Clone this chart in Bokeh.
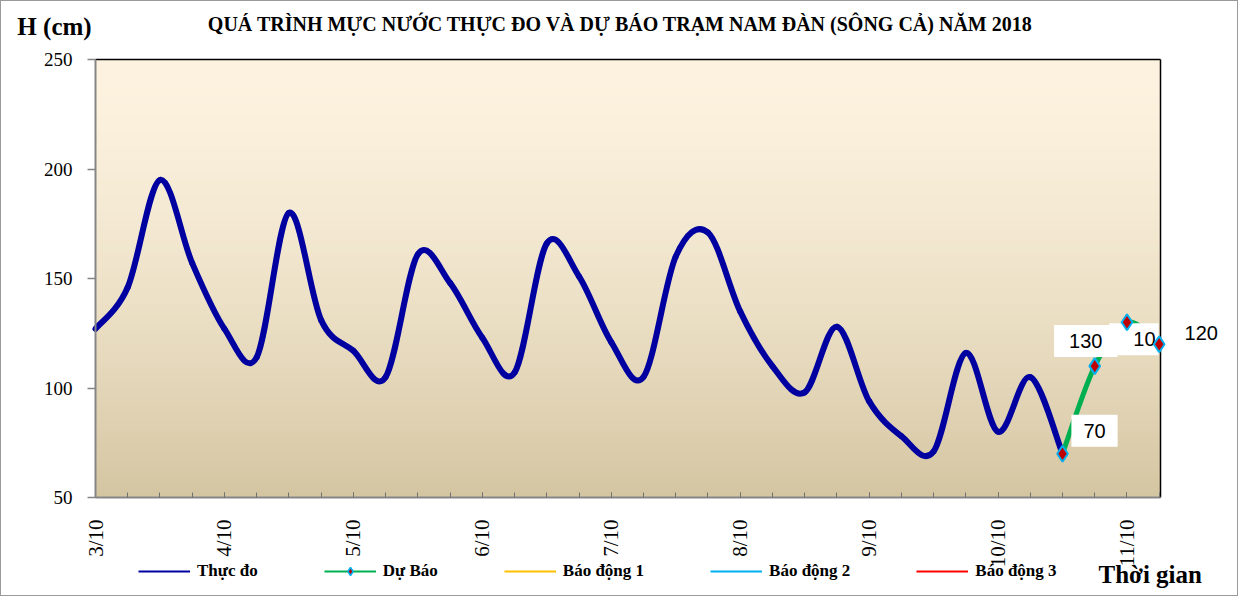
import numpy as np
from bokeh.plotting import figure
from bokeh.models import Range1d, FixedTicker, Legend, LegendItem, Label
from bokeh.embed import file_html
from bokeh.resources import INLINE

# ---------------- data ----------------
ngay_ticks = [0, 1, 2, 3, 4, 5, 6, 7, 8]
ngay_labels = ["3/10", "4/10", "5/10", "6/10", "7/10", "8/10", "9/10", "10/10", "11/10"]
gio_ticks = [0, 0.25, 0.5, 0.75, 1, 1.25, 1.5, 1.75, 2, 2.25, 2.5, 2.75, 3, 3.25, 3.5, 3.75,
             4, 4.25, 4.5, 4.75, 5, 5.25, 5.5, 5.75, 6, 6.25, 6.5, 6.75, 7, 7.25, 7.5, 7.75, 8, 8.25]

t_thuc_do = [0, 0.25, 0.5, 0.75, 1, 1.25, 1.5, 1.75, 2, 2.25, 2.5, 2.75, 3, 3.25, 3.5, 3.75,
             4, 4.25, 4.5, 4.75, 5, 5.25, 5.5, 5.75, 6, 6.25, 6.5, 6.75, 7, 7.25, 7.5]
thuc_do = [127, 146, 195, 157, 127, 114, 180, 131, 117, 105, 161, 148, 123, 107, 166, 151,
           121, 105, 160, 171, 135, 110, 98, 128, 94, 78, 71, 116, 80, 105, 70]

t_du_bao = [7.5, 7.75, 8.0, 8.25]
du_bao = [70, 110, 130, 120]
du_bao_nhan = ["70", "130", "10", "120"]

bao_dong = [540, 690, 790]
bao_dong_ten = ["Báo động 1", "Báo động 2", "Báo động 3"]
bao_dong_mau = ["#FFC000", "#00B0F0", "#FF0000"]

y_ticks = [50, 100, 150, 200, 250]

TITLE = "QUÁ TRÌNH MỰC NƯỚC THỰC ĐO VÀ DỰ BÁO TRẠM NAM ĐÀN (SÔNG CẢ) NĂM 2018"
SERIF = "Liberation Serif"

# ---------------- layout constants ----------------
W, H = 1238, 596
PLOT_L, PLOT_R, PLOT_T, PLOT_B = 94, 1159, 58, 496   # plot area in canvas pixels
X_END = 8.26
Y0, Y1 = 50, 250
sx = (PLOT_R - PLOT_L) / X_END
sy = (PLOT_B - PLOT_T) / (Y1 - Y0)
xr = Range1d(-PLOT_L / sx, X_END + (W - PLOT_R) / sx)
yr = Range1d(Y0 - (H - PLOT_B) / sy, Y1 + PLOT_T / sy)

# ---------------- helpers ----------------
def smooth_segments(xs, ys, k=1/6):
    xs = np.asarray(xs, float); ys = np.asarray(ys, float)
    n = len(xs)
    x0, y0, x1, y1, cx0, cy0, cx1, cy1 = ([] for _ in range(8))
    for i in range(n - 1):
        a = i - 1 if i > 0 else i
        d = i + 2 if i + 2 < n else i + 1
        x0.append(xs[i]); y0.append(ys[i]); x1.append(xs[i + 1]); y1.append(ys[i + 1])
        cx0.append(xs[i] + (xs[i + 1] - xs[a]) * k)
        cy0.append(ys[i] + (ys[i + 1] - ys[a]) * k)
        cx1.append(xs[i + 1] - (xs[d] - xs[i]) * k)
        cy1.append(ys[i + 1] - (ys[d] - ys[i]) * k)
    return dict(x0=x0, y0=y0, x1=x1, y1=y1, cx0=cx0, cy0=cy0, cx1=cx1, cy1=cy1)

# ---------------- figure ----------------
p = figure(width=W, height=H, x_range=xr, y_range=yr,
           output_backend="svg", toolbar_location=None,
           min_border=0, min_border_left=0, min_border_right=0,
           min_border_top=0, min_border_bottom=0)
p.styles = {"border": "1px solid #9a9a9a"}
p.border_fill_color = "white"
p.background_fill_color = "white"
p.outline_line_color = None
p.xgrid.visible = False
p.ygrid.visible = False

# gradient plot-area background
N = 256
tt = np.linspace(0, 1, N) ** 1.5  # 0 at top -> 1 at bottom
top = np.array([253, 243, 224]); bot = np.array([213, 198, 162])
rows = np.array([top + (bot - top) * t for t in tt[::-1]]).astype(np.uint32)  # row 0 = bottom
img = np.empty((N, 1), dtype=np.uint32)
img[:, 0] = (255 << 24) | (rows[:, 2] << 16) | (rows[:, 1] << 8) | rows[:, 0]
p.image_rgba(image=[img], x=0, y=Y0, dw=X_END, dh=Y1 - Y0)

# top / right border of the plot area
p.segment(x0=[0, X_END], y0=[Y1, Y0], x1=[X_END, X_END], y1=[Y1, Y1],
          line_color="black", line_width=1.5)

# alarm lines (off scale, above 250 cm)
alarm_r = []
for lv, col in zip(bao_dong, bao_dong_mau):
    alarm_r.append(p.line([t_thuc_do[0], t_du_bao[-1]], [lv, lv], line_color=col, line_width=2))

BLUE = "#0000A0"
GREEN = "#00B050"

seg_td = smooth_segments(t_thuc_do, thuc_do)
leg_td = p.bezier(line_color=BLUE, line_width=2, **seg_td)
p.bezier(line_color=BLUE, line_width=6, line_cap="round", **seg_td)

seg_db = smooth_segments(t_du_bao, du_bao)
leg_db = p.bezier(line_color=GREEN, line_width=2, **seg_db)
p.bezier(line_color=GREEN, line_width=5, line_cap="round", **seg_db)
leg_db_m = p.scatter(t_du_bao, du_bao, marker="diamond", size=8,
                     fill_color="#C00000", line_color="#00B0F0", line_width=1.5)

# data labels (drawn under the markers)
offs = [(32, 23, dict(left=12, right=12, top=9, bottom=9)),
        (-9, 25, dict(left=15, right=15, top=9, bottom=9)),
        (7, -17, dict(left=24, right=3, top=9, bottom=9)),
        (42, 11, dict(left=4, right=4, top=2, bottom=2))]
order = [0, 2, 1, 3]
for i in order:
    dx, dy, pad = offs[i]
    p.add_layout(Label(x=t_du_bao[i], y=du_bao[i], x_offset=dx, y_offset=dy,
                       text=du_bao_nhan[i], text_font="Liberation Sans", text_font_size="20px",
                       text_color="black", text_align="center", text_baseline="middle",
                       background_fill_color="white", padding=pad))

# markers on top of everything
mk = p.scatter(t_du_bao, du_bao, marker="diamond", size=16,
               fill_color="#C00000", line_color="#00B0F0", line_width=2)
mk.level = "overlay"

# axes (crossing at the plot-area corner)
xa = p.xaxis[0]
xa.fixed_location = Y0
xa.bounds = (0, X_END)
xa.ticker = FixedTicker(ticks=ngay_ticks, minor_ticks=gio_ticks)
xa.major_label_overrides = {t: l for t, l in zip(ngay_ticks, ngay_labels)}
xa.major_label_orientation = np.pi / 2
xa.major_label_text_font = SERIF
xa.major_label_text_font_size = "21px"
xa.major_label_text_color = "black"
xa.major_label_standoff = 22
xa.major_tick_in = 5; xa.major_tick_out = 0
xa.minor_tick_in = 5; xa.minor_tick_out = 0
xa.major_tick_line_color = "#707070"; xa.minor_tick_line_color = "#707070"
xa.axis_line_color = "#858585"; xa.axis_line_width = 2

ya = p.yaxis[0]
ya.fixed_location = 0
ya.bounds = (Y0, Y1)
ya.ticker = FixedTicker(ticks=y_ticks, minor_ticks=[])
ya.major_label_text_font = SERIF
ya.major_label_text_font_size = "19px"
ya.major_label_text_color = "black"
ya.major_label_standoff = 15
ya.major_tick_in = 0; ya.major_tick_out = 8
ya.major_tick_line_color = "#858585"; ya.major_tick_line_width = 1.5
ya.axis_line_color = "#858585"; ya.axis_line_width = 2

# legend
items = [LegendItem(label="Thực đo", renderers=[leg_td]),
         LegendItem(label="Dự Báo", renderers=[leg_db, leg_db_m])]
for r, name in zip(alarm_r, bao_dong_ten):
    items.append(LegendItem(label=name, renderers=[r]))
legend = Legend(items=items, orientation="horizontal", location=(137, 16),
                glyph_width=52, glyph_height=20, label_height=20, label_standoff=7,
                spacing=66, padding=0, margin=0, border_line_color=None,
                background_fill_alpha=0, label_text_font=SERIF, label_text_font_style="bold",
                label_text_font_size="17px", label_text_color="black")
p.add_layout(legend)

# texts
p.add_layout(Label(x=619, y=H - 22, x_units="screen", y_units="screen", text=TITLE,
                   text_font=SERIF, text_font_style="bold", text_font_size="20px",
                   text_align="center", text_baseline="middle", text_color="black"))
p.add_layout(Label(x=53, y=H - 25, x_units="screen", y_units="screen", text="H (cm)",
                   text_font=SERIF, text_font_style="bold", text_font_size="25px",
                   text_align="center", text_baseline="middle", text_color="black"))
p.add_layout(Label(x=1097, y=H - 573, x_units="screen", y_units="screen", text="Thời gian",
                   text_font=SERIF, text_font_style="bold", text_font_size="25px",
                   text_align="left", text_baseline="middle", text_color="black"))

open("out.html", "w").write(file_html(p, INLINE))
